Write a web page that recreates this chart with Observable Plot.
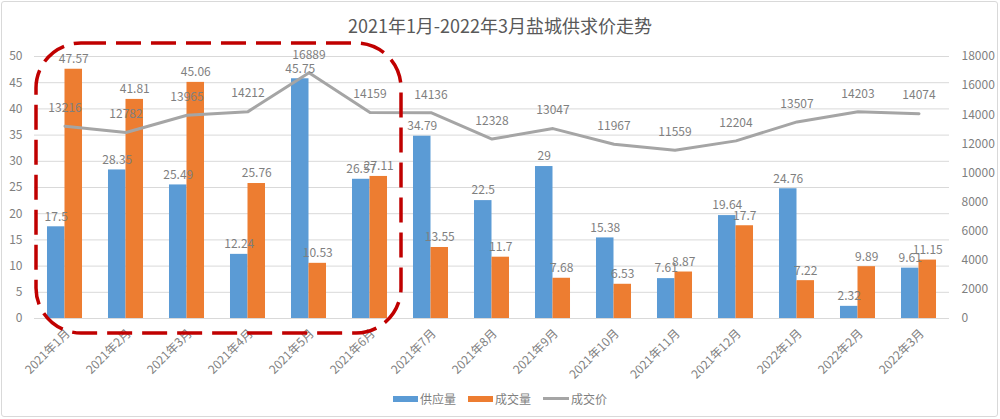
<!DOCTYPE html>
<html>
<head>
<meta charset="utf-8">
<script src="https://cdn.jsdelivr.net/npm/d3@7"></script>
<script src="https://cdn.jsdelivr.net/npm/@observablehq/plot@0.6"></script>
<style>
  html, body { margin: 0; padding: 0; background: #fff; }
  body { font-family: "Noto Sans CJK SC", "Noto Sans", sans-serif; }
  #wrap { position: relative; width: 1000px; height: 419px; overflow: hidden; }
  #frame { position: absolute; left: 1px; top: 1px; width: 995px; height: 414px; border: 1px solid #d9d9d9; border-radius: 3px; pointer-events: none; }
  #title { position: absolute; left: 0; top: 12px; width: 1000px; text-align: center; font-size: 18px; color: #595959; }
  #legend { position: absolute; left: 0; top: 390px; width: 1000px; display: flex; justify-content: center; gap: 12px; font-size: 12px; color: #7f7f7f; align-items: center; }
  .item { display: flex; align-items: center; gap: 2px; }
  .sw { display: inline-block; width: 25px; height: 6px; }
  .ln { display: inline-block; width: 26px; height: 3px; background: #a5a5a5; }
  #chart { position: absolute; left: 0; top: 0; }
</style>
</head>
<body>
<div id="wrap">
  <div id="chart"></div>
  <div id="title">2021年1月-2022年3月盐城供求价走势</div>
  <div id="legend"></div>
  <div id="frame"></div>
</div>
<script>
const months = ["2021年1月","2021年2月","2021年3月","2021年4月","2021年5月","2021年6月","2021年7月","2021年8月","2021年9月","2021年10月","2021年11月","2021年12月","2022年1月","2022年2月","2022年3月"];
const supply = [17.5, 28.35, 25.49, 12.24, 45.75, 26.57, 34.79, 22.5, 29, 15.38, 7.61, 19.64, 24.76, 2.32, 9.61];
const deals = [47.57, 41.81, 45.06, 25.76, 10.53, 27.11, 13.55, 11.7, 7.68, 6.53, 8.87, 17.7, 7.22, 9.89, 11.15];
const price = [13216, 12782, 13965, 14212, 16889, 14159, 14136, 12328, 13047, 11967, 11559, 12204, 13507, 14203, 14074];
const leftTicks = [0, 5, 10, 15, 20, 25, 30, 35, 40, 45, 50];
const rightTicks = [0, 2000, 4000, 6000, 8000, 10000, 12000, 14000, 16000, 18000];
const seriesNames = ["供应量", "成交量", "成交价"];
const colors = ["#5b9bd5", "#ed7d31", "#a5a5a5"];

const LEFT_MAX = 50, RIGHT_MAX = 18000;
const toLeft = v => v * LEFT_MAX / RIGHT_MAX;
const BW = 0.287; // bar width in band units

const rows = months.map((m, i) => ({i, m, s: supply[i], d: deals[i], p: price[i], py: toLeft(price[i])}));

const font = "Noto Sans CJK SC, Noto Sans, sans-serif";
const plot = Plot.plot({
  width: 1000,
  height: 419,
  marginLeft: 34,
  marginRight: 51,
  marginTop: 56,
  marginBottom: 101,
  style: {fontFamily: font, fontSize: "12px", color: "#7f7f7f", background: "transparent"},
  x: {domain: [-0.5, months.length - 0.5]},
  y: {domain: [0, LEFT_MAX]},
  marks: [
    Plot.ruleY(leftTicks, {stroke: "#d9d9d9", strokeWidth: 1}),
    Plot.axisY({ticks: leftTicks, tickSize: 0, tickPadding: 12, label: null, fill: "#7f7f7f", fontSize: 12}),
    Plot.axisY({anchor: "right", ticks: rightTicks.map(toLeft), tickFormat: v => String(Math.round(v * RIGHT_MAX / LEFT_MAX)), tickSize: 0, tickPadding: 12, label: null, fill: "#7f7f7f", fontSize: 12}),
    Plot.axisX({ticks: months.map((m, i) => i), tickFormat: i => months[i], tickRotate: -45, tickSize: 0, tickPadding: 13, dx: 3, label: null, fill: "#7f7f7f", fontSize: 12}),
    Plot.rectY(rows, {x1: d => d.i - BW, x2: d => d.i, y1: 0, y2: "s", fill: colors[0]}),
    Plot.rectY(rows, {x1: d => d.i, x2: d => d.i + BW, y1: 0, y2: "d", fill: colors[1]}),
    Plot.line(rows, {x: "i", y: "py", stroke: colors[2], strokeWidth: 3}),
    Plot.text(rows, {x: d => d.i - BW / 2, y: "s", text: d => String(d.s), dy: -10, fill: "#7f7f7f", fontSize: 12}),
    Plot.text(rows, {x: d => d.i + BW / 2, y: "d", text: d => String(d.d), dy: -10, fill: "#7f7f7f", fontSize: 12}),
    Plot.text(rows, {x: "i", y: "py", text: d => String(d.p), dy: -18, fill: "#7f7f7f", fontSize: 12})
  ]
});
document.getElementById("chart").appendChild(plot);

// Red dashed highlight around the first six months, positioned from the scales
const xs = plot.scale("x"), ys = plot.scale("y");
const x0 = xs.apply(-0.5) + 2, x1 = xs.apply(5.5) + 1;
const yTop = ys.apply(LEFT_MAX) - 13, yBot = ys.apply(0) + 15;
d3.select(plot).append("rect")
  .attr("x", x0).attr("y", yTop)
  .attr("width", x1 - x0).attr("height", yBot - yTop)
  .attr("rx", 45).attr("ry", 45)
  .attr("fill", "none").attr("stroke", "#c00000")
  .attr("stroke-width", 3.5).attr("stroke-dasharray", "25,10");

// Legend
const lg = document.getElementById("legend");
seriesNames.forEach((n, k) => {
  const it = document.createElement("div");
  it.className = "item";
  const sw = document.createElement("span");
  if (k < 2) { sw.className = "sw"; sw.style.background = colors[k]; }
  else { sw.className = "ln"; }
  it.appendChild(sw);
  const t = document.createElement("span");
  t.textContent = n;
  it.appendChild(t);
  lg.appendChild(it);
});
</script>
</body>
</html>
